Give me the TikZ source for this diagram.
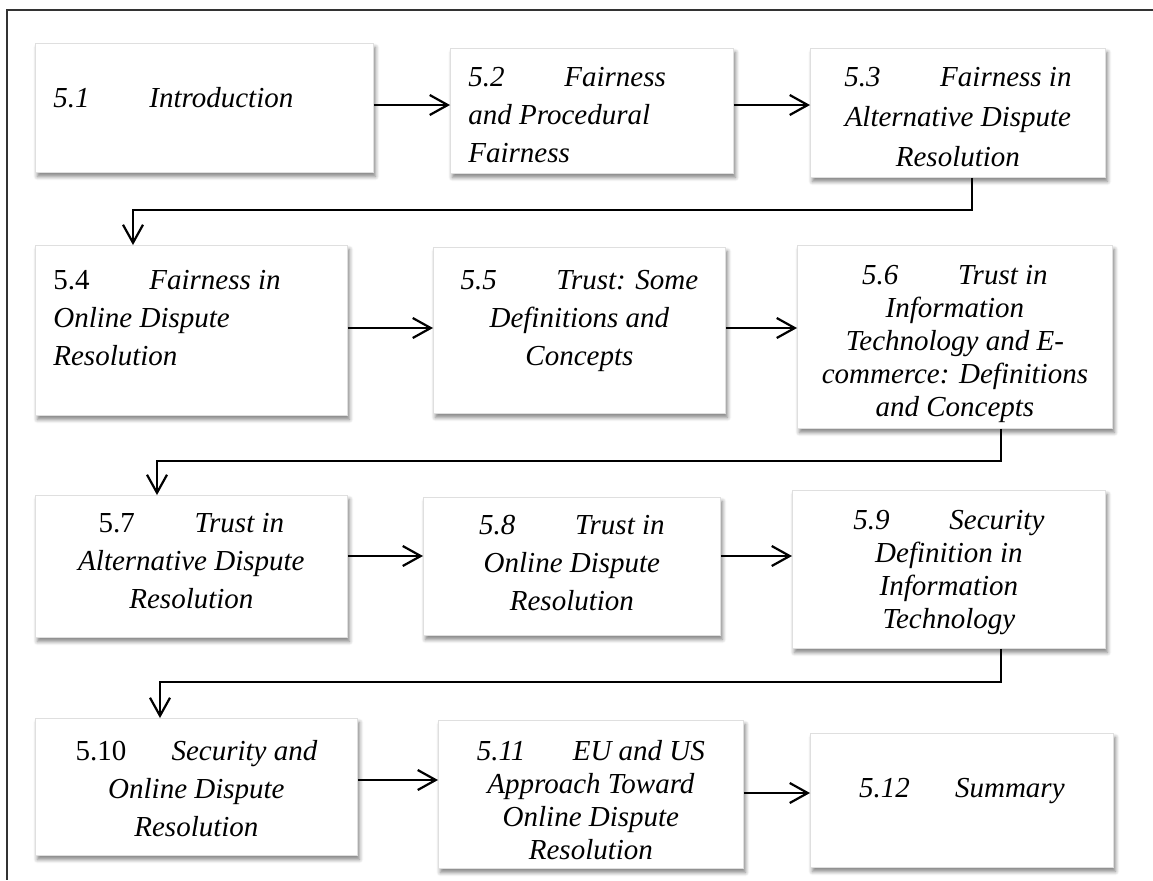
\documentclass[tikz,border=0pt]{standalone}
\usepackage{fontspec}
\setmainfont{Liberation Serif}
\usepackage{tikz}
\usetikzlibrary{arrows.meta,shadows,shadows.blur}

% tab between section number and title
\newcommand{\secnum}[1]{\makebox[48pt][l]{#1}}
% box text: width, height, top space, line skip, content
\newcommand{\boxtext}[5]{\parbox[c][#2][t]{#1}{\fontsize{14.5}{#4}\selectfont\itshape\vspace*{#3}#5}}

\begin{document}
\begin{tikzpicture}[x=0.5pt,y=-0.5pt,>={Straight Barb[length=9pt,width=10pt]},line width=1.1pt]
	\tikzstyle{chapbox}=[draw=gray!25,line width=0.4pt,fill=white,inner sep=0pt,anchor=north west,
		blur shadow={shadow xshift=1pt,shadow yshift=-2pt,shadow blur steps=6,shadow blur radius=2pt,shadow opacity=50}]
	\useasboundingbox (0,0) rectangle (1153,880);
	\draw[line width=0.6pt,black!80] (1153,10) -- (7,10) -- (7,880);
	
	\node[chapbox](s51) at (35,43) {\boxtext{169pt}{64.5pt}{22pt}{19pt}{\raggedright\leftskip=9pt\relax\secnum{5.1}Introduction}};
	\node[chapbox](s52) at (450,48) {\boxtext{141.5pt}{62.5pt}{9.5pt}{19pt}{\raggedright\leftskip=9pt\relax\secnum{5.2}Fairness\\and Procedural\\Fairness}};
	\node[chapbox](s53) at (810,48) {\boxtext{147.5pt}{64.5pt}{9.5pt}{20pt}{\centering\secnum{5.3}Fairness in\\Alternative Dispute\\Resolution}};
	
	\node[chapbox](s54) at (35,245) {\boxtext{156pt}{85pt}{12.5pt}{19pt}{\raggedright\leftskip=9pt\relax\secnum{\upshape 5.4}Fairness in\\Online Dispute\\Resolution}};
	\node[chapbox](s55) at (433,247) {\boxtext{146pt}{83pt}{11.5pt}{19pt}{\centering\secnum{5.5}Trust: Some\\Definitions and\\Concepts}};
	\node[chapbox](s56) at (797,245) {\boxtext{157.5pt}{91.5pt}{10pt}{16.5pt}{\centering\secnum{5.6}Trust in\\Information\\Technology and E-\\commerce: Definitions\\and Concepts}};
	
	\node[chapbox](s57) at (35,495) {\boxtext{156pt}{71pt}{9pt}{19pt}{\centering\secnum{\upshape 5.7}Trust in\\Alternative Dispute\\Resolution}};
	\node[chapbox](s58) at (423,497) {\boxtext{148.5pt}{69pt}{9pt}{19pt}{\centering\secnum{5.8}Trust in\\Online Dispute\\Resolution}};
	\node[chapbox](s59) at (792,490) {\boxtext{156.5pt}{79pt}{10pt}{16.5pt}{\centering\secnum{5.9}Security\\Definition in\\Information\\Technology}};
	
	\node[chapbox](s510) at (35,718) {\boxtext{161pt}{68.5pt}{11pt}{19pt}{\centering\secnum{\upshape 5.10}Security and\\Online Dispute\\Resolution}};
	\node[chapbox](s511) at (438,720) {\boxtext{152.5pt}{74pt}{10pt}{16.5pt}{\centering\secnum{5.11}EU and US\\Approach Toward\\Online Dispute\\Resolution}};
	\node[chapbox](s512) at (810,733) {\boxtext{151.5pt}{67pt}{22.5pt}{19pt}{\centering\secnum{5.12}Summary}};
	
	% rows
	\coordinate (r1) at (0,105);
	\coordinate (r2) at (0,328);
	\coordinate (r3) at (0,556);
	\coordinate (r4) at (0,780);
	\coordinate (r5) at (0,793);
	\draw[->] (s51.east |- r1) -- (s52.west |- r1);
	\draw[->] (s52.east |- r1) -- (s53.west |- r1);
	\draw[->] (s54.east |- r2) -- (s55.west |- r2);
	\draw[->] (s55.east |- r2) -- (s56.west |- r2);
	\draw[->] (s57.east |- r3) -- (s58.west |- r3);
	\draw[->] (s58.east |- r3) -- (s59.west |- r3);
	\draw[->] (s510.east |- r4) -- (s511.west |- r4);
	\draw[->] (s511.east |- r5) -- (s512.west |- r5);
	
	% turns to the next row
	\coordinate (t1) at (972,210);
	\coordinate (t2) at (133,210);
	\coordinate (t3) at (1001,461);
	\coordinate (t4) at (157,461);
	\coordinate (t5) at (1001,682);
	\coordinate (t6) at (160,682);
	\draw[->] (s53.south -| t1) -- (t1) -- (t2) -- (s54.north -| t2);
	\draw[->] (s56.south -| t3) -- (t3) -- (t4) -- (s57.north -| t4);
	\draw[->] (s59.south -| t5) -- (t5) -- (t6) -- (s510.north -| t6);
\end{tikzpicture}
\end{document}
